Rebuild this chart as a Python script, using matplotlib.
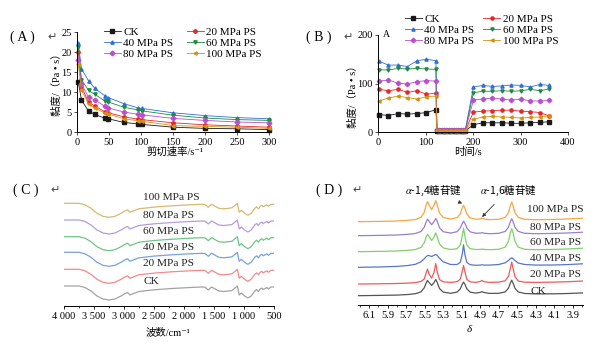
import matplotlib
matplotlib.use('Agg')
import numpy as np
import matplotlib.pyplot as plt
from matplotlib.ticker import FuncFormatter

plt.rcParams['font.family'] = ['Liberation Serif', 'Noto Sans CJK SC', 'DejaVu Sans']
plt.rcParams['mathtext.fontset'] = 'stix'
plt.rcParams['axes.linewidth'] = 0.7

names = ['CK', '20 MPa PS', '40 MPa PS', '60 MPa PS', '80 MPa PS', '100 MPa PS']
colors_ab = ['#1a1a1a', '#e8262a', '#2f6fd6', '#1f8b3f', '#b94fcf', '#d4920f']
markers = ['s', 'o', '^', 'v', 'D', '<']

# (A) viscosity vs shear rate
shear_rate = [2, 7, 18, 28, 44, 49, 73, 96, 101, 150, 200, 250, 300]
visc_ck = [12.5, 8.0, 5.2, 4.4, 3.4, 3.3, 2.4, 2.0, 1.9, 1.2, 0.9, 0.8, 0.6]
visc_20 = [20.0, 11.3, 7.4, 6.5, 5.0, 4.8, 3.8, 3.2, 3.1, 2.3, 1.8, 1.5, 1.2]
visc_40 = [22.2, 15.8, 12.8, 10.9, 9.0, 8.6, 7.1, 6.0, 5.9, 4.8, 4.1, 3.6, 3.3]
visc_60 = [21.2, 13.1, 10.4, 9.4, 7.7, 7.5, 6.2, 5.5, 5.3, 4.2, 3.5, 3.1, 2.9]
visc_80 = [18.0, 12.0, 8.7, 8.0, 6.4, 6.0, 5.0, 4.4, 4.3, 3.4, 2.9, 2.5, 2.3]
visc_100 = [17.0, 10.5, 7.0, 6.0, 4.7, 4.5, 3.3, 2.8, 2.7, 1.6, 1.4, 1.2, 0.9]
visc_all = [visc_ck, visc_20, visc_40, visc_60, visc_80, visc_100]

# (B) viscosity vs time (three-interval thixotropy)
time_s = [2, 22, 42, 62, 82, 102, 122,
          124, 129, 134, 139, 144, 149, 154, 159, 164, 169, 174, 179, 184,
          201, 221, 241, 261, 281, 301, 321, 341, 361]
tvis_ck = [36, 34, 38, 37, 38, 40, 46,
           2.5, 2.5, 2.5, 2.5, 2.5, 2.5, 2.5, 2.5, 2.5, 2.5, 2.5, 2.5, 2.5,
           15, 19, 19, 19, 18, 18, 19, 20, 21]
tvis_20 = [88, 85, 88, 82, 85, 78, 80,
           3.5, 3.5, 3.5, 3.5, 3.5, 3.5, 3.5, 3.5, 3.5, 3.5, 3.5, 3.5, 3.5,
           41, 43, 44, 45, 45, 43, 42, 40, 33]
tvis_40 = [146, 138, 138, 135, 147, 150, 147,
           5, 5, 5, 5, 5, 5, 5, 5, 5, 5, 5, 5, 5,
           93, 96, 94, 95, 97, 96, 93, 98, 96]
tvis_60 = [128, 128, 131, 130, 131, 130, 129,
           4.5, 4.5, 4.5, 4.5, 4.5, 4.5, 4.5, 4.5, 4.5, 4.5, 4.5, 4.5, 4.5,
           81, 84, 84, 85, 84, 85, 88, 85, 89]
tvis_80 = [105, 107, 101, 99, 104, 106, 105,
           4, 4, 4, 4, 4, 4, 4, 4, 4, 4, 4, 4, 4,
           66, 68, 70, 68, 66, 68, 64, 64, 65]
tvis_100 = [64, 70, 74, 71, 68, 73, 74,
            3, 3, 3, 3, 3, 3, 3, 3, 3, 3, 3, 3, 3,
            26, 31, 32, 31, 30, 29, 30, 31, 33]
tvis_all = [tvis_ck, tvis_20, tvis_40, tvis_60, tvis_80, tvis_100]

# (C) FTIR, shared spectrum shape and stacking offsets
wavenumber = [4000, 3750, 3650, 3550, 3450, 3350, 3250, 3150, 3050, 2980, 2940,
              2900, 2860, 2750, 2500, 2200, 1900, 1700, 1650, 1595, 1540, 1480,
              1420, 1340, 1260, 1200, 1150, 1111, 1080, 1045, 990, 935, 880,
              820, 790, 760, 730, 705, 680, 650, 620, 595, 550, 510]
ftir_shape = [0, 0, -1.5, -5, -10, -13, -14, -13, -10, -7.5, -6.5,
              -9, -8, -5.5, -3.8, -2.5, -1.5, -1, -1.2, -4, -1, -3,
              -5, -5.5, -5, -4.5, -2, 0, -9, -7, -10, -12, -10,
              -5, -3.5, -5.5, -3, -2, -3.5, -2.5, -1.5, -3, -1, -1]
ftir_offset = [20, 36.7, 53.7, 69.3, 86, 102.7]
ftir_colors = ['#a3a3a3', '#f08a8a', '#7aa0de', '#6fc48a', '#b79bdc', '#d9b870']
ftir_label_y = [24.3, 42, 58, 74, 90.3, 108.3]

# (D) 1H NMR
ppm = [6.22, 6.00, 5.80, 5.68, 5.60, 5.54, 5.505, 5.485, 5.47, 5.455, 5.425,
       5.40, 5.38, 5.365, 5.34, 5.30, 5.22, 5.15, 5.115, 5.095, 5.08, 5.065,
       5.045, 5.01, 4.95, 4.90, 4.88, 4.86, 4.80, 4.70, 4.63, 4.595, 4.575,
       4.56, 4.545, 4.525, 4.49, 4.42, 4.30, 4.10, 3.95, 3.79]
nmr_ck = [0, 0.3, 0.6, 1.2, 2.0, 3.8, 7.8, 12.5, 15.2, 13.5, 10.3,
          13.0, 16.2, 13.4, 7.2, 3.6, 2.4, 3.6, 6.9, 11.3, 13.6, 11.5,
          7.0, 3.6, 2.6, 3.3, 4.0, 3.2, 2.3, 2.4, 3.8, 7.5, 12.5,
          15.6, 12.5, 7.5, 3.8, 2.2, 1.8, 1.9, 2.2, 2.8]
nmr_20 = [0, 0.2, 0.5, 0.9, 1.4, 2.5, 5.0, 10.5, 15.0, 10.5, 5.8,
          11.5, 20.3, 12.5, 4.5, 2.2, 1.6, 2.3, 4.8, 12.2, 18.5, 12.0,
          4.6, 2.2, 1.6, 2.5, 3.5, 2.3, 1.6, 1.9, 3.2, 7.8, 15.5,
          22.0, 15.5, 7.5, 3.0, 1.8, 1.6, 1.9, 2.3, 3.0]
nmr_40 = [0, 0.3, 0.9, 1.8, 3.0, 5.5, 8.5, 10.5, 11.7, 11.8, 10.8,
          12.0, 12.8, 12.0, 9.0, 5.5, 2.8, 2.8, 5.0, 12.5, 22.5, 12.5,
          5.0, 2.6, 2.0, 2.2, 2.5, 2.2, 2.2, 2.8, 4.5, 6.8, 8.6,
          9.5, 8.6, 6.8, 4.3, 2.8, 2.2, 2.3, 2.75, 3.5]
nmr_60 = [0, 0.3, 0.7, 1.4, 2.2, 4.3, 8.8, 14.5, 17.5, 15.5, 11.2,
          14.5, 18.8, 15.0, 7.8, 3.8, 2.2, 3.0, 6.9, 15.5, 23.5, 15.3,
          6.8, 3.0, 2.2, 2.3, 2.6, 2.3, 2.0, 2.4, 4.6, 10.5, 18.8,
          23.0, 18.8, 10.5, 4.6, 2.4, 2.0, 2.3, 2.75, 3.5]
nmr_80 = [0, 0.3, 0.7, 1.4, 2.2, 4.2, 8.5, 13.5, 16.5, 14.8, 11.0,
          14.0, 17.3, 14.5, 8.0, 4.0, 2.6, 4.0, 7.8, 12.0, 14.5, 12.3,
          7.8, 3.9, 2.5, 2.6, 3.0, 2.5, 2.0, 2.4, 4.3, 8.5, 14.0,
          17.0, 14.0, 8.5, 4.3, 2.4, 2.0, 2.3, 2.75, 3.5]
nmr_100 = [0, 0.3, 0.7, 1.4, 2.2, 4.4, 9.3, 16.2, 20.1, 17.3, 12.1,
           16.2, 21.1, 16.9, 8.7, 4.2, 2.7, 4.0, 7.8, 13.5, 16.5, 13.4,
           7.8, 3.8, 2.5, 2.8, 3.5, 2.7, 2.0, 2.4, 4.3, 9.1, 15.9,
           19.6, 15.9, 9.1, 4.3, 2.4, 2.0, 2.3, 2.75, 3.5]
nmr_all = [nmr_ck, nmr_20, nmr_40, nmr_60, nmr_80, nmr_100]
nmr_offset = [9.3, 21, 37.7, 53.3, 69.3, 83.3]
nmr_colors = ['#555555', '#ef5a5a', '#5577c8', '#7fd16a', '#9a7dd0', '#f8a542']
nmr_label_y = [13.3, 30.7, 46.7, 62.7, 77.3, 95.7]

W, H = 600, 351
fig = plt.figure(figsize=(6, 3.51), dpi=100)


def box(l, r, top, bottom):
    return [l / W, 1 - bottom / H, (r - l) / W, (bottom - top) / H]


def style_axis(ax):
    for s in ['top', 'right']:
        ax.spines[s].set_visible(False)
    ax.tick_params(length=2.5, width=0.6, labelsize=7.5, pad=1.5, color='#333333')


def fig_text(x, y, s, **kw):
    fig.text(x / W, 1 - y / H, s, **kw)


order = [0, 2, 4, 1, 3, 5]

# ---- (A)
axA = fig.add_axes(box(77, 269, 32, 132))
lines = []
for vals, c, m, n in zip(visc_all, colors_ab, markers, names):
    ln, = axA.plot(shear_rate, vals, color=c, lw=0.6, marker=m, ms=2.4,
                   mec=c, mfc=c, clip_on=False, label=n)
    lines.append(ln)
axA.set_xlim(0, 300)
axA.set_ylim(0, 25)
axA.set_xticks(range(0, 301, 50))
axA.set_yticks(range(0, 26, 5))
style_axis(axA)
axA.legend([lines[i] for i in order], [names[i] for i in order], ncol=2,
           loc='upper left', bbox_to_anchor=(104 / W, 1 - 27 / H),
           bbox_transform=fig.transFigure, frameon=False, fontsize=8,
           handlelength=1.5, handletextpad=0.25, columnspacing=1.2,
           labelspacing=0.1, borderpad=0, borderaxespad=0)
fig_text(57, 82, '黏度/（Pa • s）', rotation=90, ha='center', va='center', fontsize=7.5)
fig_text(175, 152, '剪切速率/s⁻¹', ha='center', va='center', fontsize=7.5)

# ---- (B)
axB = fig.add_axes(box(378, 568, 35, 132))
lines = []
for vals, c, m, n in zip(tvis_all, colors_ab, markers, names):
    ln, = axB.plot(time_s, vals, color=c, lw=0.6, marker=m, ms=2.3,
                   mec=c, mfc=c, clip_on=False, label=n)
    lines.append(ln)
axB.set_xlim(0, 400)
axB.set_ylim(0, 200)
axB.set_xticks(range(0, 401, 100))
axB.set_yticks([0, 100, 200])
style_axis(axB)
axB.text(10, 202, 'A', fontsize=7, va='center', ha='left')
axB.legend([lines[i] for i in order], [names[i] for i in order], ncol=2,
           loc='upper left', bbox_to_anchor=(405 / W, 1 - 14 / H),
           bbox_transform=fig.transFigure, frameon=False, fontsize=8,
           handlelength=1.5, handletextpad=0.25, columnspacing=0.8,
           labelspacing=0.1, borderpad=0, borderaxespad=0)
fig_text(353, 94, '黏度/（Pa • s）', rotation=90, ha='center', va='center', fontsize=7.5)
fig_text(468, 152, '时间/s', ha='center', va='center', fontsize=7.5)

# ---- (C)
axC = fig.add_axes(box(64, 274, 180, 306))
for off, c, ly, n in zip(ftir_offset, ftir_colors, ftir_label_y, names):
    axC.plot(wavenumber, np.array(ftir_shape) + off, color=c, lw=0.9)
    axC.text(2683, ly, n, fontsize=8.2, ha='left', va='center', color='#222222')
axC.set_xlim(4000, 500)
axC.set_ylim(0, 126)
axC.set_xticks(range(500, 4001, 500))
axC.set_xticks(range(750, 4000, 500), minor=True)
axC.xaxis.set_major_formatter(FuncFormatter(
    lambda v, p: f'{int(v):,}'.replace(',', ' ')))
for s in ['top', 'right', 'left']:
    axC.spines[s].set_visible(False)
axC.set_yticks([])
axC.tick_params(axis='x', length=2.5, width=0.6, labelsize=7.5, pad=2)
axC.tick_params(axis='x', which='minor', length=1.5, width=0.5)
fig_text(168, 332, '波数/cm⁻¹', ha='center', va='center', fontsize=7.5)

# ---- (D)
axD = fig.add_axes(box(358, 583, 180, 305))
for vals, off, c, ly, n in zip(nmr_all, nmr_offset, nmr_colors, nmr_label_y, names):
    axD.plot(ppm, np.array(vals) + off, color=c, lw=0.9)
    axD.text(4.36 if n != '100 MPa PS' else 4.40, ly, n, fontsize=8.2,
             ha='left', va='center', color='#222222')
axD.set_xlim(6.22, 3.79)
axD.set_ylim(0, 125)
axD.set_xticks(np.arange(3.9, 6.15, 0.2))
axD.set_xticks(np.arange(3.8, 6.25, 0.1), minor=True)
axD.xaxis.set_major_formatter(FuncFormatter(lambda v, p: f'{v:.1f}'))
for s in ['top', 'right', 'left']:
    axD.spines[s].set_visible(False)
axD.set_yticks([])
axD.tick_params(axis='x', length=2.5, width=0.6, labelsize=7.5, pad=2)
axD.tick_params(axis='x', which='minor', length=1.5, width=0.5)
axD.annotate(r'$\alpha$-1,4糖苷键', xy=(5.095, 101.5), xytext=(5.41, 115),
             ha='center', va='center', fontsize=7.5, family='Noto Sans CJK SC',
             arrowprops=dict(arrowstyle='-|>', lw=0.6, color='#333333',
                             mutation_scale=5, shrinkA=4, shrinkB=0))
axD.annotate(r'$\alpha$-1,6糖苷键', xy=(4.88, 88), xytext=(4.60, 115),
             ha='center', va='center', fontsize=7.5, family='Noto Sans CJK SC',
             arrowprops=dict(arrowstyle='-|>', lw=0.6, color='#333333',
                             mutation_scale=5, shrinkA=4, shrinkB=0))
fig_text(469, 329, 'δ', ha='center', va='center', fontsize=8, style='italic')

# panel labels
for x, y, s, ax_ in [(10, 37, '( A )', 47), (306, 37, '( B )', 343),
                     (13, 190, '( C )', 50), (316, 190, '( D )', 352)]:
    fig_text(x, y, s, ha='left', va='center', fontsize=10)
    fig_text(ax_, y, '↵', ha='left', va='center', fontsize=8,
             family='DejaVu Sans', color='#444444')

fig.savefig('out.png', dpi=100)
